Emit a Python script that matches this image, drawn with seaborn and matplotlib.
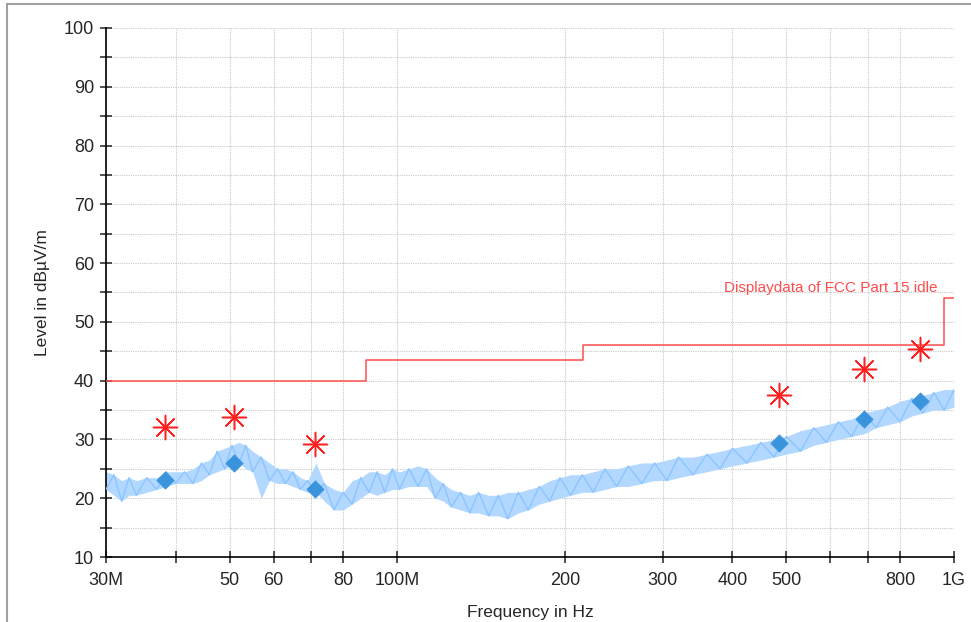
import numpy as np
import pandas as pd
import seaborn as sns
import matplotlib
matplotlib.use("Agg")
import matplotlib.pyplot as plt
from matplotlib.ticker import FixedLocator, FixedFormatter, MultipleLocator
from matplotlib.patches import Rectangle

# ---- data (frequency in MHz, level in dBuV/m) ----
trace_freq = [30, 31, 32, 33, 34, 35.5, 37, 38.5, 40, 41.5, 43, 44.5, 46, 47.5, 49, 50.5,
              52, 53.5, 55, 57, 59, 61, 63, 65, 67, 69, 71.5, 74, 77, 80, 83, 86, 89, 92,
              95, 98, 101, 105, 109, 113, 117, 121, 125, 130, 135, 140, 146, 152, 158, 165,
              172, 180, 188, 196, 205, 215, 225, 236, 248, 260, 275, 290, 305, 320, 340,
              360, 380, 400, 425, 450, 475, 500, 530, 560, 590, 620, 655, 690, 725, 760,
              800, 840, 880, 920, 960, 1000]
trace_lo = [21.5, 20.5, 19.5, 20.5, 20.5, 21, 21.5, 22, 22.5, 22.5, 22.5, 23, 24, 24.5, 25, 25.5,
            26, 25, 24.5, 20, 23, 22.5, 22.5, 22, 21.5, 21, 21, 19.5, 18, 18, 19, 20, 21, 20.5,
            21, 21.5, 21.5, 22, 22, 22, 20, 19.5, 18.5, 18, 17.5, 17.5, 17, 17, 16.5, 17.5,
            18, 19, 19.5, 20, 20.5, 21, 21, 21.5, 22, 22, 22.5, 23, 23, 23.5, 24,
            24.5, 25, 25.5, 26, 26.5, 27, 27.5, 28, 29, 29.5, 30, 30.5, 31, 32, 32.5,
            33, 34, 34.5, 35, 35, 35.5]
trace_hi = [24.5, 24, 23, 23.5, 23, 23.5, 23.5, 24.5, 24.5, 24.5, 25, 26, 26.5, 28, 28.5, 29,
            29.5, 29, 28, 27, 26, 25, 25, 24.5, 23.5, 23, 26, 22.5, 21.5, 21, 23, 23.5, 24.5, 24.5,
            24, 25, 24.5, 25, 25.5, 25, 23.5, 22.5, 21.5, 21, 20.5, 21, 20.5, 20.5, 21, 21,
            21.5, 22, 23, 23.5, 24, 24, 24.5, 25, 25, 25.5, 26, 26, 26.5, 27, 27,
            27.5, 28, 28.5, 29, 29.5, 30, 30.5, 31.5, 32, 32.5, 33, 33.5, 34.5, 35, 35.5,
            36.5, 37, 37.5, 38, 38.5, 38.5]

limit_freq = [30, 88, 216, 960, 1000]
limit_level = [40, 43.5, 46, 54, 54]

peak_freq = [38.3, 51.0, 71.1, 485, 689, 868]
peak_level = [32.1, 33.8, 29.2, 37.6, 42.0, 45.4]
qp_level = [23.1, 26.0, 21.6, 29.4, 33.5, 36.5]

xtick_vals = [30, 40, 50, 60, 70, 80, 100, 200, 300, 400, 500, 600, 700, 800, 1000]
xtick_text = ["30M", "", "50", "60", "", "80", "100M", "200", "300", "400", "500", "", "", "800", "1G"]
limit_text = "Displaydata of FCC Part 15 idle"

sns.set_style("white")
plt.rcParams["font.family"] = ["Liberation Sans", "DejaVu Sans"]

fig = plt.figure(figsize=(9.71, 6.22), dpi=100)
ax = fig.add_axes([0.1092, 0.1045, 0.8733, 0.8505])

# trace: band + zigzag between the read envelopes
ax.fill_between(trace_freq, trace_lo, trace_hi, color="#b3d8ff", linewidth=0, zorder=2)
zig = pd.DataFrame({"f": trace_freq,
                    "lvl": [trace_lo[i] if i % 2 == 0 else trace_hi[i] for i in range(len(trace_freq))]})
sns.lineplot(data=zig, x="f", y="lvl", ax=ax, color="#8cc4ff", linewidth=1.0,
             estimator=None, sort=False, zorder=3)

lim = pd.DataFrame({"f": limit_freq, "lvl": limit_level})
sns.lineplot(data=lim, x="f", y="lvl", ax=ax, color="#ff4d4d", linewidth=1.1,
             drawstyle="steps-post", estimator=None, zorder=4)

pk = pd.DataFrame({"f": peak_freq, "pk": peak_level, "qp": qp_level})
sns.scatterplot(data=pk, x="f", y="qp", ax=ax, marker="D", s=75, color="#3a94db",
                edgecolor="#3a94db", zorder=5)
sns.scatterplot(data=pk, x="f", y="pk", ax=ax, marker=(8, 2, 0), s=300, color="#ff2020",
                linewidth=1.1, zorder=6)

ax.text(935, 55.7, limit_text, color="#ff4d4d", fontsize=11, ha="right", va="center")

ax.set_xscale("log")
ax.set_xlim(30, 1000)
ax.set_ylim(10, 100)
ax.xaxis.set_major_locator(FixedLocator(xtick_vals))
ax.xaxis.set_major_formatter(FixedFormatter(xtick_text))
ax.xaxis.set_minor_locator(FixedLocator([]))
ax.yaxis.set_major_locator(MultipleLocator(10))
ax.yaxis.set_minor_locator(MultipleLocator(5))

ax.grid(True, which="major", axis="x", color="#c8c8c8", linestyle=(0, (1, 1)), linewidth=0.8)
ax.grid(True, which="both", axis="y", color="#c8c8c8", linestyle=(0, (1, 1)), linewidth=0.8)
ax.set_axisbelow(True)

for s in ["top", "right"]:
    ax.spines[s].set_visible(False)
for s in ["left", "bottom"]:
    ax.spines[s].set_color("black")
    ax.spines[s].set_linewidth(1.2)

ax.tick_params(axis="both", which="both", direction="inout", length=9, width=1.1,
               color="#222222", labelsize=13, pad=4, left=True, bottom=True)
ax.tick_params(axis="x", pad=6)

ax.set_xlabel("Frequency in Hz", fontsize=12.5, labelpad=12)
ax.set_ylabel("Level in dBµV/m", fontsize=12.5, labelpad=10)

fig.add_artist(Rectangle((0.0072, -0.2), 1.2, 0.2 + 0.9936, transform=fig.transFigure,
                         fill=False, edgecolor="#a0a0a0", linewidth=1.5))

fig.savefig("out.png", dpi=100)
